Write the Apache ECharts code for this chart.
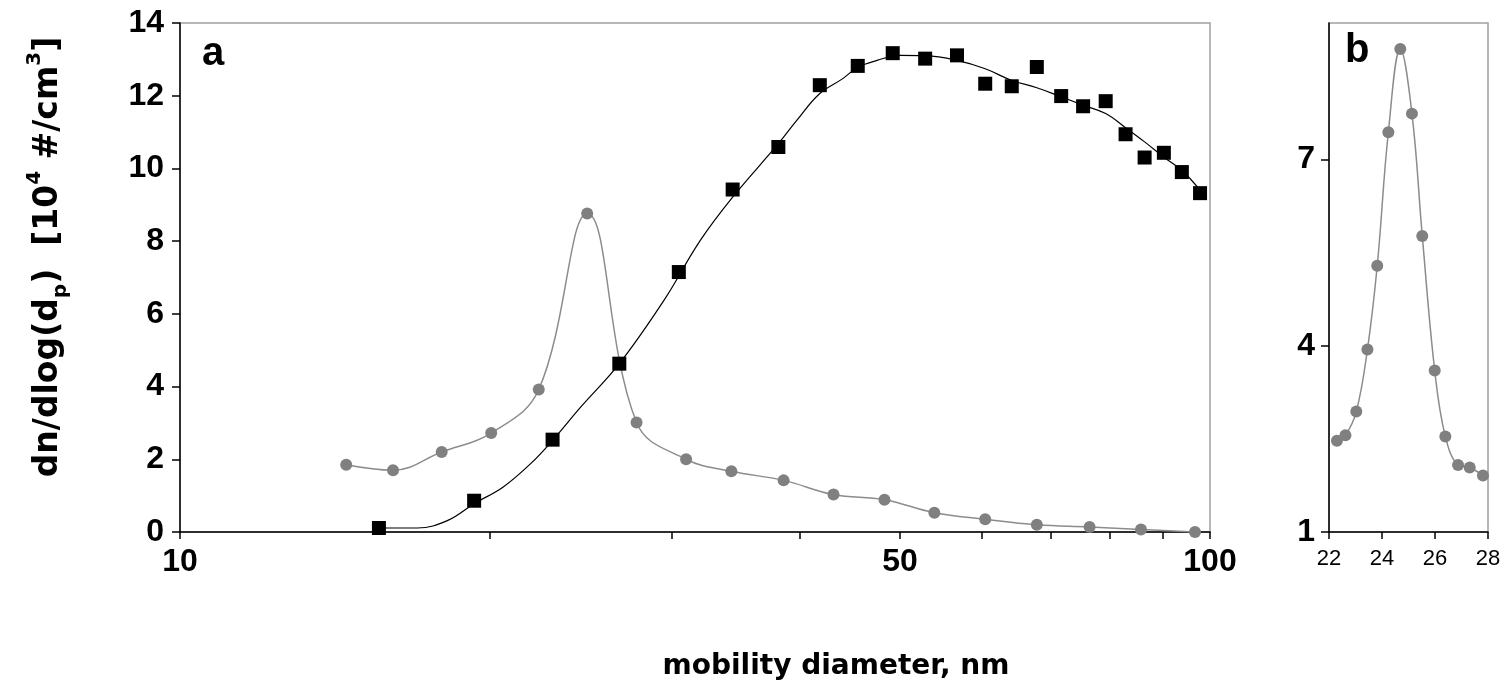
<!DOCTYPE html>
<html><head><meta charset="utf-8">
<script src="https://cdn.jsdelivr.net/npm/echarts@6/dist/echarts.min.js"></script>
<style>html,body{margin:0;padding:0;background:#fff}#c{width:1506px;height:687px}</style>
</head><body><div id="c"></div>
<script>
// ---- data (panel a) ----
const squareD = [15.6, 19.3, 23.0, 26.7, 30.5, 34.4, 38.1, 41.8, 45.5, 49.2, 52.9, 56.8, 60.5, 64.2, 67.9, 71.7, 75.3, 79.2, 82.8, 86.4, 90.2, 93.9, 97.8];
const squareV = [0.11, 0.86, 2.54, 4.63, 7.15, 9.42, 10.59, 12.29, 12.82, 13.17, 13.02, 13.11, 12.33, 12.26, 12.79, 11.99, 11.71, 11.85, 10.94, 10.30, 10.43, 9.90, 9.32];
const fitD = [15.6, 17.0, 18.2, 19.3, 20.6, 21.9, 23.0, 24.5, 26.7, 29.5, 32.0, 34.4, 38.1, 39.7, 41.8, 44.0, 45.5, 47.5, 50.0, 52.9, 56.8, 60.5, 64.2, 67.9, 71.7, 75.3, 79.2, 82.8, 86.4, 90.2, 93.9, 97.8];
const fitV = [0.11, 0.11, 0.32, 0.78, 1.24, 1.88, 2.52, 3.44, 4.63, 6.37, 8.02, 9.21, 10.68, 11.32, 12.06, 12.47, 12.78, 12.97, 13.11, 13.10, 12.97, 12.74, 12.42, 12.22, 11.97, 11.74, 11.51, 11.12, 10.73, 10.31, 9.95, 9.40];
const grayD = [14.5, 16.1, 17.95, 20.05, 22.3, 24.85, 27.75, 31.0, 34.3, 38.55, 43.1, 48.3, 54.0, 60.5, 67.9, 76.4, 85.7, 96.7];
const grayV = [1.85, 1.70, 2.20, 2.72, 3.92, 8.76, 3.01, 2.00, 1.67, 1.42, 1.03, 0.89, 0.53, 0.35, 0.20, 0.14, 0.07, 0.0];
// ---- data (panel b) ----
const bD = [22.30, 22.62, 23.03, 23.45, 23.82, 24.24, 24.69, 25.13, 25.52, 25.99, 26.39, 26.87, 27.31, 27.81];
const bV = [2.47, 2.56, 2.94, 3.94, 5.29, 7.44, 8.78, 7.74, 5.77, 3.60, 2.54, 2.08, 2.04, 1.91];
// ---- ticks / labels ----
const xLabelsA = [10, 50, 100];
const xTicksA = [10, 20, 30, 40, 50, 60, 70, 80, 90, 100];
const yTicksB = [1, 4, 7];
const xTitle = 'mobility diameter, nm';
const panelLabels = ['a', 'b'];

const zip = (a, b) => a.map((v, i) => [v, b[i]]);
const black = '#000';
const gray = '#808080';
const frame = '#a0a0a0';
const boldNum = { fontFamily: 'Liberation Sans', fontWeight: 'bold', fontSize: 32, color: black };

const chart = echarts.init(document.getElementById('c'), null, { renderer: 'canvas' });
chart.setOption({
  animation: false,
  backgroundColor: '#fff',
  grid: [
    { left: 180, top: 23, width: 1030, height: 509, show: true, borderColor: frame, borderWidth: 1.5, backgroundColor: 'transparent', outerBoundsMode: 'none', containLabel: false },
    { left: 1329, top: 23, width: 159, height: 509, show: true, borderColor: frame, borderWidth: 1.5, backgroundColor: 'transparent', outerBoundsMode: 'none', containLabel: false }
  ],
  xAxis: [
    { gridIndex: 0, type: 'log', logBase: 10, min: 10, max: 100, position: 'bottom',
      axisLine: { show: true, lineStyle: { color: black, width: 1.5 } },
      axisTick: { show: false }, axisLabel: { show: false }, splitLine: { show: false } },
    { gridIndex: 0, type: 'value', min: 1, max: 2, position: 'bottom', offset: 0,
      axisLine: { show: false },
      axisTick: { show: true, length: 7, customValues: xTicksA.map(Math.log10), lineStyle: { color: black, width: 1.5 } },
      axisLabel: { show: true, margin: 14, customValues: xLabelsA.map(Math.log10),
        formatter: v => String(Math.round(Math.pow(10, v))), ...boldNum },
      splitLine: { show: false } },
    { gridIndex: 1, type: 'value', min: 22, max: 28, interval: 2, position: 'bottom',
      axisLine: { show: true, lineStyle: { color: black, width: 1.5 } },
      axisTick: { show: true, length: 7, lineStyle: { color: black, width: 1.5 } },
      axisLabel: { margin: 16, fontFamily: 'Liberation Sans', fontSize: 22, color: black },
      splitLine: { show: false } }
  ],
  yAxis: [
    { gridIndex: 0, type: 'value', min: 0, max: 14, interval: 2,
      axisLine: { show: true, lineStyle: { color: black, width: 1.5 } },
      axisTick: { show: true, length: 8, lineStyle: { color: black, width: 1.5 } },
      axisLabel: { margin: 16, ...boldNum },
      splitLine: { show: false } },
    { gridIndex: 1, type: 'value', min: 1, max: 9.2,
      axisLine: { show: true, lineStyle: { color: black, width: 1.5 } },
      axisTick: { show: true, length: 8, customValues: yTicksB, lineStyle: { color: black, width: 1.5 } },
      axisLabel: { margin: 14, customValues: yTicksB, ...boldNum },
      splitLine: { show: false } }
  ],
  series: [
    { name: 'fit', type: 'line', xAxisIndex: 0, yAxisIndex: 0, data: zip(fitD, fitV),
      showSymbol: false, smooth: 0.4, lineStyle: { color: black, width: 1.2 }, z: 3 },
    { name: 'squares', type: 'scatter', xAxisIndex: 0, yAxisIndex: 0, data: zip(squareD, squareV),
      symbol: 'rect', symbolSize: 14, itemStyle: { color: black, opacity: 1 }, z: 5 },
    { name: 'gray a', type: 'line', xAxisIndex: 0, yAxisIndex: 0, data: zip(grayD, grayV),
      symbol: 'circle', symbolSize: 12, showSymbol: true, smooth: 0.4,
      lineStyle: { color: '#8c8c8c', width: 1.5 }, itemStyle: { color: gray }, z: 4 },
    { name: 'gray b', type: 'line', xAxisIndex: 2, yAxisIndex: 1, data: zip(bD, bV),
      symbol: 'circle', symbolSize: 12, showSymbol: true, smooth: 0.4,
      lineStyle: { color: '#8c8c8c', width: 1.5 }, itemStyle: { color: gray }, z: 4 }
  ],
  graphic: [
    { type: 'text', x: 202, y: 54, style: { text: panelLabels[0], font: 'bold 40px "Liberation Sans"', fill: black, align: 'left', verticalAlign: 'middle' } },
    { type: 'text', x: 1345, y: 51, style: { text: panelLabels[1], font: 'bold 40px "Liberation Sans"', fill: black, align: 'left', verticalAlign: 'middle' } },
    { type: 'text', x: 836, y: 667, style: { text: xTitle, font: 'bold 28px "DejaVu Sans"', fill: black, align: 'center', verticalAlign: 'middle' } },
    { type: 'text', x: 48, y: 257, rotation: Math.PI / 2,
      style: {
        text: 'dn/dlog(d{sub|p})  [10{sup|4} #/cm{sup|3}]',
        fontFamily: 'DejaVu Sans', fontWeight: 'bold', fontSize: 33, fill: black,
        align: 'center', verticalAlign: 'middle', lineHeight: 46,
        rich: {
          sub: { fontFamily: 'DejaVu Sans', fontWeight: 'bold', fontSize: 20, verticalAlign: 'bottom', lineHeight: 46, fill: black },
          sup: { fontFamily: 'DejaVu Sans', fontWeight: 'bold', fontSize: 20, verticalAlign: 'top', lineHeight: 46, fill: black }
        }
      } }
  ]
});
</script>
</body></html>
